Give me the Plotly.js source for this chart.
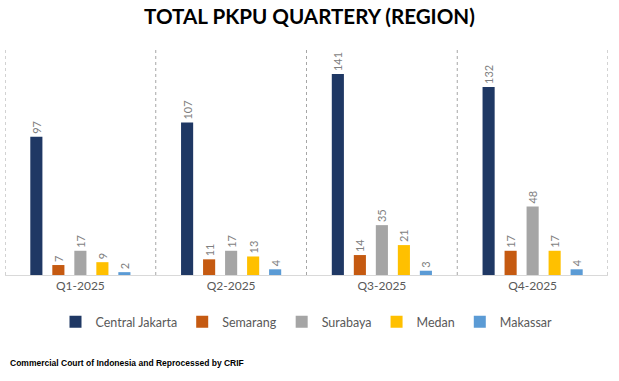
<!DOCTYPE html>
<html>
<head>
<meta charset="utf-8">
<script src="https://cdn.plot.ly/plotly-3.0.1.min.js"></script>
<style>html,body{margin:0;padding:0;background:#fff;}#chart{width:619px;height:381px;}</style>
</head>
<body>
<div id="chart"></div>
<script>
const quarters = ['Q1-2025', 'Q2-2025', 'Q3-2025', 'Q4-2025'];
const regions = ['Central Jakarta', 'Semarang', 'Surabaya', 'Medan', 'Makassar'];
const centralJakarta = [97, 107, 141, 132];
const semarang = [7, 11, 14, 17];
const surabaya = [17, 17, 35, 48];
const medan = [9, 13, 21, 17];
const makassar = [2, 4, 3, 4];
const colors = ['#1f3864', '#c55a11', '#a5a5a5', '#ffc000', '#5b9bd5'];
const seriesValues = [centralJakarta, semarang, surabaya, medan, makassar];

const traces = regions.map((name, i) => ({
  type: 'bar',
  name: name,
  x: quarters,
  y: seriesValues[i],
  marker: {color: colors[i]},
  text: seriesValues[i].map(String),
  textposition: 'outside',
  textangle: -90,
  constraintext: 'none',
  cliponaxis: false,
  textfont: {family: 'Lato, "Open Sans", sans-serif', size: 11, color: '#7f7f7f'},
  hoverinfo: 'x+y+name'
}));

const shapes = [];
for (let i = 0; i <= quarters.length; i++) {
  shapes.push({
    type: 'line', xref: 'x', yref: 'paper',
    x0: i - 0.5, x1: i - 0.5, y0: 0, y1: 1,
    line: {color: '#a6a6a6', width: 1, dash: 'dot'}
  });
}

const layout = {
  width: 619, height: 381,
  margin: {l: 5, r: 11, t: 47, b: 106},
  paper_bgcolor: '#ffffff', plot_bgcolor: '#ffffff',
  title: {
    text: '<b>TOTAL PKPU QUARTERY (REGION)</b>',
    font: {family: 'Lato, "Open Sans", sans-serif', size: 20.6, color: '#000000'},
    x: 0.5, xanchor: 'center', y: 1 - 17 / 381, yanchor: 'middle'
  },
  barmode: 'group',
  bargap: 0.27,
  bargroupgap: 0.45,
  xaxis: {
    type: 'category', range: [-0.5, 3.5],
    showline: true, linecolor: '#d9d9d9', linewidth: 1,
    ticks: '', showgrid: false, zeroline: false,
    tickfont: {family: 'Lato, "Open Sans", sans-serif', size: 12, color: '#595959'}
  },
  yaxis: {
    range: [0, 160], visible: false, showgrid: false, zeroline: false
  },
  legend: {
    orientation: 'h', x: 0.5, xanchor: 'center',
    yref: 'container', y: 1 - 322 / 381, yanchor: 'middle',
    font: {family: 'Lato, "Open Sans", sans-serif', size: 12.5, color: '#595959'},
    itemwidth: 30
  },
  shapes: shapes,
  annotations: [{
    xref: 'paper', yref: 'paper', x: 3 / 603, y: (275 - 363) / 228,
    xanchor: 'left', yanchor: 'middle', showarrow: false,
    text: '<b>Commercial Court of Indonesia and Reprocessed by CRIF</b>',
    font: {family: '"Liberation Sans", Arial, sans-serif', size: 8.5, color: '#000000'}
  }],
  showlegend: true
};

Plotly.newPlot('chart', traces, layout, {displayModeBar: false, staticPlot: true});
</script>
</body>
</html>
